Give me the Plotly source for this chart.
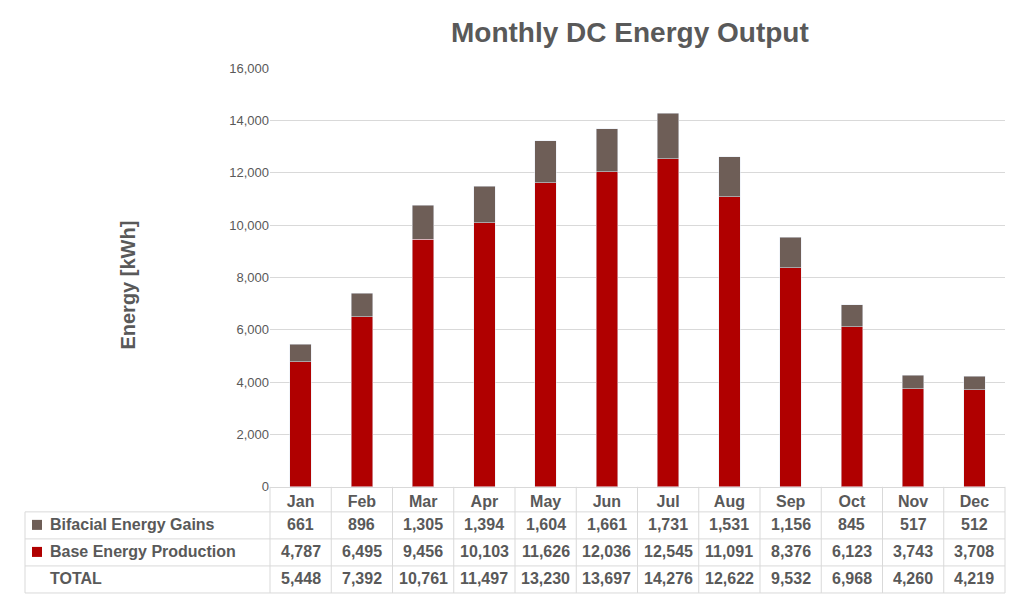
import plotly.graph_objects as go

months = ["Jan","Feb","Mar","Apr","May","Jun","Jul","Aug","Sep","Oct","Nov","Dec"]
bifacial = [661,896,1305,1394,1604,1661,1731,1531,1156,845,517,512]
base = [4787,6495,9456,10103,11626,12036,12545,11091,8376,6123,3743,3708]
total = [5448,7392,10761,11497,13230,13697,14276,12622,9532,6968,4260,4219]

C_BASE = "#B00000"
C_BIF = "#6E5E57"
GRID = "#D9D9D9"
TXT = "#595959"
W, H = 1024, 600
# compensate observed page offset/scale
def px(x): return (x - 8) / W
def py(y): return 1 - ((y - 14.8) / 0.9737) / H

X0, X1 = 270, 1005
Y0, Y1 = 68, 486

fig = go.Figure()
fig.add_bar(x=months, y=base, marker_color=C_BASE, width=0.35, name="Base Energy Production")
fig.add_bar(x=months, y=bifacial, marker_color=C_BIF, width=0.35, name="Bifacial Energy Gains")

shapes = []
ann = []
rows = [("Bifacial Energy Gains", bifacial, C_BIF, 524),
        ("Base Energy Production", base, C_BASE, 551),
        ("TOTAL", total, None, 578)]
colw = (X1 - X0) / 12
line = dict(color=GRID, width=1)
for y in [511, 538, 565, 592]:
    shapes.append(dict(type="line", xref="paper", yref="paper", x0=px(25), x1=px(X1), y0=py(y), y1=py(y), line=line))
for i in range(13):
    x = X0 + i * colw
    shapes.append(dict(type="line", xref="paper", yref="paper", x0=px(x), x1=px(x), y0=py(486), y1=py(592), line=line))
shapes.append(dict(type="line", xref="paper", yref="paper", x0=px(25), x1=px(25), y0=py(511), y1=py(592), line=line))
for label, vals, col, yc in rows:
    tx = 48
    if col:
        shapes.append(dict(type="rect", xref="paper", yref="paper", x0=px(32), x1=px(42), y0=py(yc+5), y1=py(yc-5), fillcolor=col, line=dict(width=0)))
    ann.append(dict(text=f"<b>{label}</b>", x=px(tx), y=py(yc), xref="paper", yref="paper", xanchor="left", yanchor="middle", showarrow=False, font=dict(size=16, color=TXT)))
    for i, v in enumerate(vals):
        ann.append(dict(text=f"<b>{v:,}</b>", x=px(X0 + (i + 0.5) * colw), y=py(yc), xref="paper", yref="paper", xanchor="center", yanchor="middle", showarrow=False, font=dict(size=16, color=TXT)))

ann.append(dict(text="<b>Monthly DC Energy Output</b>", x=px(630), y=py(32), xref="paper", yref="paper", yanchor="middle", showarrow=False, font=dict(size=28, color=TXT)))
ann.append(dict(text="<b>Energy [kWh]</b>", x=px(115), y=py(285), xref="paper", yref="paper", yanchor="middle", textangle=-90, showarrow=False, font=dict(size=20, color=TXT)))

fig.update_layout(
    width=W, height=H, barmode="stack", showlegend=False,
    paper_bgcolor="white", plot_bgcolor="white",
    margin=dict(l=0, r=0, t=0, b=0),
    font=dict(family="Liberation Sans, Arial", color=TXT),
    xaxis=dict(domain=[px(X0), px(X1)], anchor="y", tickfont=dict(size=16, color=TXT),
               tickprefix="<b>", ticksuffix="</b>", showline=True, linecolor=GRID, ticks=""),
    yaxis=dict(domain=[py(Y1), py(Y0)], range=[0, 16000], dtick=2000, tickformat=",",
               gridcolor=GRID, tickfont=dict(size=13, color=TXT), zeroline=False),
    shapes=shapes, annotations=ann,
)
fig.write_html("out.html")
